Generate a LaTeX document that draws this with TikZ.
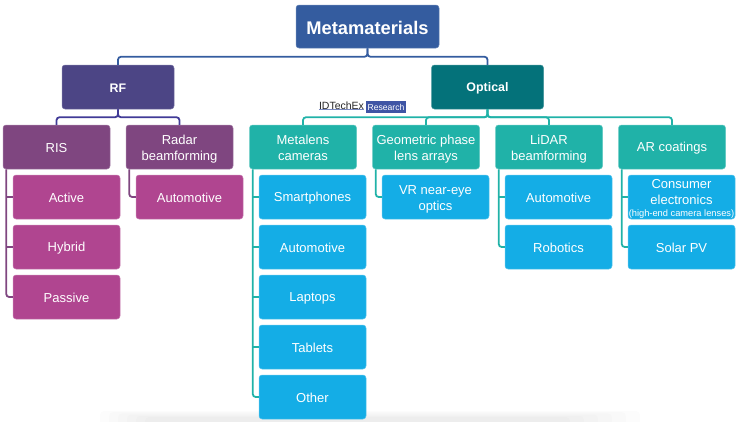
\documentclass[tikz,border=0pt]{standalone}
\usepackage{fontspec}
\setmainfont{Liberation Sans}

\definecolor{topblue}{HTML}{345C9F}
\definecolor{rfpurple}{HTML}{4C4585}
\definecolor{optteal}{HTML}{04727A}
\definecolor{midpurple}{HTML}{7F4680}
\definecolor{midteal}{HTML}{20B2A8}
\definecolor{leafpink}{HTML}{B04590}
\definecolor{leafblue}{HTML}{14ADE6}
\definecolor{logoblue}{HTML}{3F55A5}

\newcommand{\firstline}{\rule{0pt}{1em}}

\tikzset{
  box/.style={rounded corners=3pt, text=white, align=center, inner sep=0pt,
    minimum width=107pt, minimum height=44pt, font=\fontsize{13}{16}\selectfont,
    execute at begin node={\rule{0pt}{.92em}}, execute at end node={\rule[-.08em]{0pt}{0pt}}},
  topbox/.style={box, fill=topblue, draw=topblue!75!white, line width=.5pt, minimum width=143pt,
    minimum height=43pt, font=\fontsize{18.3}{22}\selectfont\bfseries},
  headbox/.style={box, minimum width=112pt, font=\fontsize{12.4}{15}\selectfont\bfseries},
  midbox/.style={box, draw=#1!70!white, line width=.5pt, fill=#1},
  leafbox/.style={box, draw=#1!70!white, line width=.5pt, fill=#1},
  link/.style={line width=1.8pt, rounded corners=3pt, color=#1},
}

\begin{document}
\begin{tikzpicture}[x=1pt,y=-1pt]
    \useasboundingbox (0,0) rectangle (740,421);

    % faint shadow along the lower edge
    \foreach \i in {0,...,5}
      \fill[black,opacity=.012,rounded corners=4pt] (100+\i*9,411+\i*1.2) rectangle (640-\i*14,425);

    \node[topbox] (meta) at (367.5,26.5) {Metamaterials};
    \node[headbox,fill=rfpurple,draw=rfpurple!75!white,line width=.5pt] (rf) at (118,87) {RF};
    \node[headbox,fill=optteal,draw=optteal!75!white,line width=.5pt] (optical) at (487.5,87) {Optical};

    \node[midbox=midpurple] (ris) at (56.5,147) {RIS};
    \node[midbox=midpurple] (radar) at (179.5,147) {\firstline Radar\\beamforming};
    \node[midbox=midteal] (metalens) at (303,147) {\firstline Metalens\\cameras};
    \node[midbox=midteal] (geo) at (426,147) {\firstline Geometric phase\\lens arrays};
    \node[midbox=midteal] (lidar) at (549,147) {\firstline LiDAR\\beamforming};
    \node[midbox=midteal] (coat) at (672,147) {AR coatings};

    \node[leafbox=leafpink] (active) at (66.5,197) {Active};
    \node[leafbox=leafpink] (hybrid) at (66.5,247) {Hybrid};
    \node[leafbox=leafpink] (passive) at (66.5,297) {Passive};
    \node[leafbox=leafpink] (radarauto) at (189.5,197) {Automotive};

    \node[leafbox=leafblue] (phones) at (312.5,197) {Smartphones};
    \node[leafbox=leafblue] (camauto) at (312.5,247) {Automotive};
    \node[leafbox=leafblue] (laptops) at (312.5,297) {Laptops};
    \node[leafbox=leafblue] (tablets) at (312.5,347) {Tablets};
    \node[leafbox=leafblue] (other) at (312.5,397) {Other};
    \node[leafbox=leafblue] (vr) at (435.5,197) {\firstline VR near-eye\\optics};
    \node[leafbox=leafblue] (lidarauto) at (558.5,197) {Automotive};
    \node[leafbox=leafblue] (robotics) at (558.5,247) {Robotics};
    \node[leafbox=leafblue] (consumer) at (681.5,197) {\firstline Consumer\\[-.5pt]electronics\\[-3.5pt]{\fontsize{9.3}{9}\selectfont (high-end camera lenses)}};
    \node[leafbox=leafblue] (solar) at (681.5,247) {Solar PV};

    \draw[link=topblue] (meta.south) -- ++(0,8.5) -| (rf.north);
    \draw[link=topblue] (meta.south) -- ++(0,8.5) -| (optical.north);

    \foreach \to in {ris,radar}
      \draw[link=rfpurple!85!blue] (rf.south) -- ++(0,8) -| (\to.north);
    \foreach \to in {metalens,geo,lidar,coat}
      \draw[link=midteal] (optical.south) -- ++(0,8) -| (\to.north);

    % each trunk bends into its last child, the others join it square
    \draw[link=midpurple] ([xshift=3.5pt]ris.south west) |- (passive.west);
    \foreach \to in {active,hybrid}
      \draw[link=midpurple] (\to.west) -- ++(-6.5,0);
    \draw[link=midpurple] ([xshift=3.5pt]radar.south west) |- (radarauto.west);

    \draw[link=midteal] ([xshift=3.5pt]metalens.south west) |- (other.west);
    \foreach \to in {phones,camauto,laptops,tablets}
      \draw[link=midteal] (\to.west) -- ++(-6.5,0);
    \draw[link=midteal] ([xshift=3.5pt]geo.south west) |- (vr.west);
    \draw[link=midteal] ([xshift=3.5pt]lidar.south west) |- (robotics.west);
    \draw[link=midteal] (lidarauto.west) -- ++(-6.5,0);
    \draw[link=midteal] ([xshift=3.5pt]coat.south west) |- (solar.west);
    \draw[link=midteal] (consumer.west) -- ++(-6.5,0);

    % logo above the optical branch
    \node[inner sep=0pt,text=black!85,font=\fontsize{10.5}{12}\selectfont] (logoname) at (341.5,105.5) {IDTechEx};
    \node[fill=logoblue,text=white,inner sep=0pt,minimum width=40pt,minimum height=12pt,
      font=\fontsize{8.6}{9}\selectfont] (logotag) at (386,107) {Research};
    \draw[logoblue!70,line width=1pt] (logoname.south west) -- (logoname.south east);
\end{tikzpicture}
\end{document}
